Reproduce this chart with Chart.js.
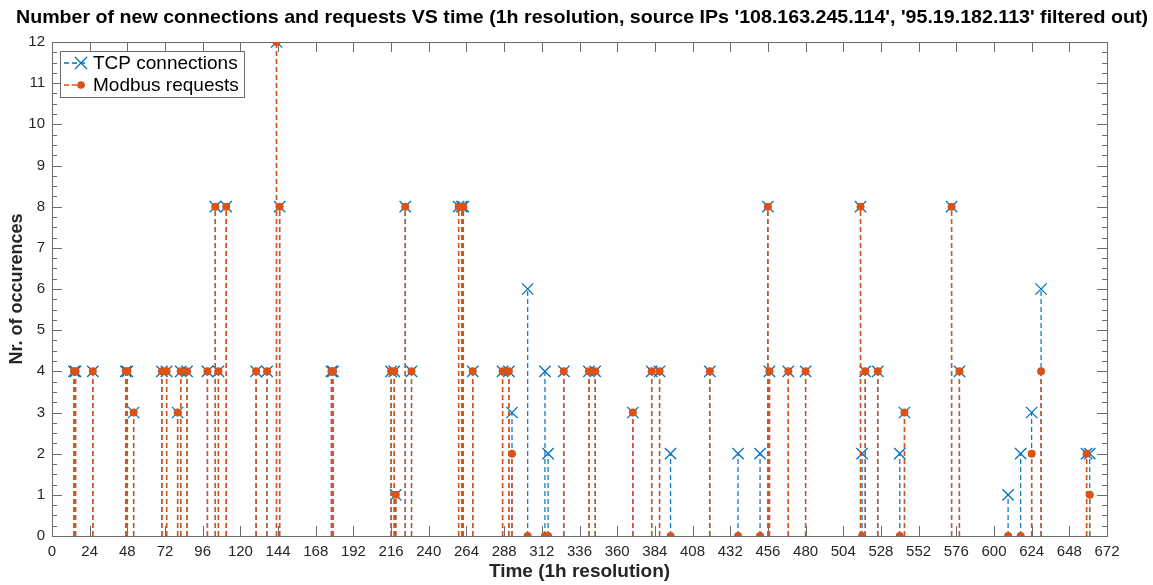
<!DOCTYPE html>
<html>
<head>
<meta charset="utf-8">
<script src="https://cdn.jsdelivr.net/npm/chart.js@4.4.1/dist/chart.umd.min.js"></script>
<style>
  html, body { margin: 0; padding: 0; background: #fff; }
  #wrap { width: 1153px; height: 585px; }
</style>
</head>
<body>
<div id="wrap"><canvas id="chart" width="1153" height="585"></canvas></div>
<script>
// hour index of each non-empty bin
const hours = [14, 15, 26, 47, 48, 52, 70, 73, 80, 82, 86, 99, 104, 106, 111, 130, 137, 143, 145,
  178, 179, 216, 218, 219, 225, 229, 259, 261, 262, 268, 287, 291, 293, 303, 314, 316, 326,
  342, 346, 370, 382, 387, 394, 419, 437, 451, 456, 457, 469, 480, 515, 516, 518, 526, 540,
  543, 573, 578, 609, 617, 624, 630, 659, 661];
const tcpConnections = [4, 4, 4, 4, 4, 3, 4, 4, 3, 4, 4, 4, 8, 4, 8, 4, 4, 12, 8,
  4, 4, 4, 4, 1, 8, 4, 8, 8, 8, 4, 4, 4, 3, 6, 4, 2, 4,
  4, 4, 3, 4, 4, 2, 4, 2, 2, 8, 4, 4, 4, 8, 2, 4, 4, 2,
  3, 8, 4, 1, 2, 3, 6, 2, 2];
const modbusRequests = [4, 4, 4, 4, 4, 3, 4, 4, 3, 4, 4, 4, 8, 4, 8, 4, 4, 12, 8,
  4, 4, 4, 4, 1, 8, 4, 8, 8, 8, 4, 4, 4, 2, 0, 0, 0, 4,
  4, 4, 3, 4, 4, 0, 4, 0, 0, 8, 4, 4, 4, 8, 0, 4, 4, 0,
  3, 8, 4, 0, 0, 2, 4, 2, 1];

const xMin = 0, xMax = 672, xStep = 24;
const yMin = 0, yMax = 12, yStep = 1, yMinorStep = 0.25;

const BLUE = "#0072BD";
const ORANGE = "#D95319";
const AXIS = "#6b6b6b";
const TEXT = "#262626";
const FONT = "'Liberation Sans', Arial, Helvetica, sans-serif";

// stems: (x,0) -> (x,v) then a gap
function stemData(values) {
  const out = [];
  hours.forEach((h, i) => {
    out.push({ x: h, y: 0 }, { x: h, y: values[i] }, { x: h, y: null });
  });
  return out;
}
function markerData(values) {
  return hours.map((h, i) => ({ x: h, y: values[i] }));
}

// box + inward ticks like matlab
const boxPlugin = {
  id: "box",
  beforeDatasetsDraw(chart) {
    const { ctx, chartArea: a, scales } = chart;
    const xs = scales.x, ys = scales.y;
    ctx.save();
    ctx.strokeStyle = AXIS;
    ctx.lineWidth = 1;
    ctx.beginPath();
    for (let v = xMin; v <= xMax; v += xStep) {
      const px = Math.round(xs.getPixelForValue(v)) + 0.5;
      ctx.moveTo(px, a.bottom); ctx.lineTo(px, a.bottom - 10);
      ctx.moveTo(px, a.top); ctx.lineTo(px, a.top + 10);
    }
    for (let v = yMin; v <= yMax + 1e-9; v += yMinorStep) {
      const py = Math.round(ys.getPixelForValue(v)) + 0.5;
      const len = Math.abs(v - Math.round(v)) < 1e-9 ? 10 : 5;
      ctx.moveTo(a.left, py); ctx.lineTo(a.left + len, py);
      ctx.moveTo(a.right, py); ctx.lineTo(a.right - len, py);
    }
    ctx.stroke();
    ctx.strokeRect(Math.round(a.left) + 0.5, Math.round(a.top) + 0.5,
      Math.round(a.right - a.left), Math.round(a.bottom - a.top));
    ctx.restore();
  },
  afterDraw(chart) {
    const { ctx, chartArea: a } = chart;
    ctx.save();
    // title, squeezed to the width of the original
    const title = "Number of new connections and requests VS time (1h resolution, source IPs '108.163.245.114', '95.19.182.113' filtered out)";
    ctx.font = "bold 19px " + FONT;
    ctx.fillStyle = "#000";
    ctx.textBaseline = "alphabetic";
    const w = ctx.measureText(title).width;
    const target = 1132;
    ctx.translate(16, 23);
    ctx.scale(target / w, 1);
    ctx.fillText(title, 0, 0);
    ctx.restore();

    // legend
    ctx.save();
    const lx = a.left + 8, ly = a.top + 9, lw = 184, lh = 46;
    ctx.fillStyle = "#fff";
    ctx.fillRect(lx, ly, lw, lh);
    ctx.strokeStyle = AXIS;
    ctx.lineWidth = 1;
    ctx.strokeRect(lx + 0.5, ly + 0.5, lw, lh);
    const items = [
      { label: "TCP connections", color: BLUE, marker: "x" },
      { label: "Modbus requests", color: ORANGE, marker: "o" }
    ];
    items.forEach((it, i) => {
      const cy = ly + 12 + i * 22;
      ctx.strokeStyle = it.color;
      ctx.lineWidth = 1.3;
      ctx.setLineDash([5, 3]);
      ctx.beginPath();
      ctx.moveTo(lx + 4, cy); ctx.lineTo(lx + 27, cy);
      ctx.stroke();
      ctx.setLineDash([]);
      const mx = lx + 21;
      if (it.marker === "x") {
        ctx.lineWidth = 1.3;
        ctx.beginPath();
        ctx.moveTo(mx - 6, cy - 6); ctx.lineTo(mx + 6, cy + 6);
        ctx.moveTo(mx - 6, cy + 6); ctx.lineTo(mx + 6, cy - 6);
        ctx.stroke();
      } else {
        ctx.fillStyle = it.color;
        ctx.beginPath();
        ctx.arc(mx, cy, 3.8, 0, Math.PI * 2);
        ctx.fill();
      }
      ctx.fillStyle = "#000";
      ctx.font = "19px " + FONT;
      ctx.textBaseline = "middle";
      ctx.fillText(it.label, lx + 33, cy + 1);
    });
    ctx.restore();
  }
};

const ctx = document.getElementById("chart").getContext("2d");
new Chart(ctx, {
  type: "scatter",
  data: {
    datasets: [
      {
        label: "TCP stems",
        data: stemData(tcpConnections),
        showLine: true,
        spanGaps: false,
        borderColor: BLUE,
        borderWidth: 1.2,
        borderDash: [5, 3],
        pointRadius: 0,
        order: 4
      },
      {
        label: "TCP connections",
        data: markerData(tcpConnections),
        showLine: false,
        pointStyle: "crossRot",
        pointRadius: 8,
        borderColor: BLUE,
        pointBorderWidth: 1.3,
        order: 3
      },
      {
        label: "Modbus stems",
        data: stemData(modbusRequests),
        showLine: true,
        spanGaps: false,
        borderColor: ORANGE,
        borderWidth: 1.5,
        borderDash: [5, 3],
        pointRadius: 0,
        order: 2
      },
      {
        label: "Modbus requests",
        data: markerData(modbusRequests),
        showLine: false,
        pointStyle: "circle",
        pointRadius: 4,
        backgroundColor: ORANGE,
        borderColor: ORANGE,
        pointBorderWidth: 0,
        order: 1
      }
    ]
  },
  options: {
    responsive: false,
    animation: false,
    devicePixelRatio: 1,
    layout: { padding: { left: 0, right: 46, top: 42, bottom: 0 } },
    plugins: {
      legend: { display: false },
      tooltip: { enabled: false },
      title: { display: false }
    },
    scales: {
      x: {
        type: "linear",
        min: xMin,
        max: xMax,
        grid: { display: false, drawTicks: false },
        border: { display: false },
        ticks: {
          stepSize: xStep,
          autoSkip: false,
          maxRotation: 0,
          padding: 7,
          color: TEXT,
          font: { family: FONT, size: 15 }
        },
        title: {
          display: true,
          text: "Time (1h resolution)",
          color: TEXT,
          font: { family: FONT, size: 19, weight: "bold" },
          padding: { top: 0, bottom: 2 }
        },
        afterFit(s) { s.height = 49; }
      },
      y: {
        min: yMin,
        max: yMax,
        grid: { display: false, drawTicks: false },
        border: { display: false },
        ticks: {
          stepSize: yStep,
          padding: 7,
          color: TEXT,
          font: { family: FONT, size: 15 }
        },
        title: {
          display: true,
          text: "Nr. of occurences",
          color: TEXT,
          font: { family: FONT, size: 18, weight: "bold" },
          padding: { top: 6, bottom: 0 }
        },
        afterFit(s) { s.width = 52; }
      }
    }
  },
  plugins: [boxPlugin]
});
</script>
</body>
</html>
